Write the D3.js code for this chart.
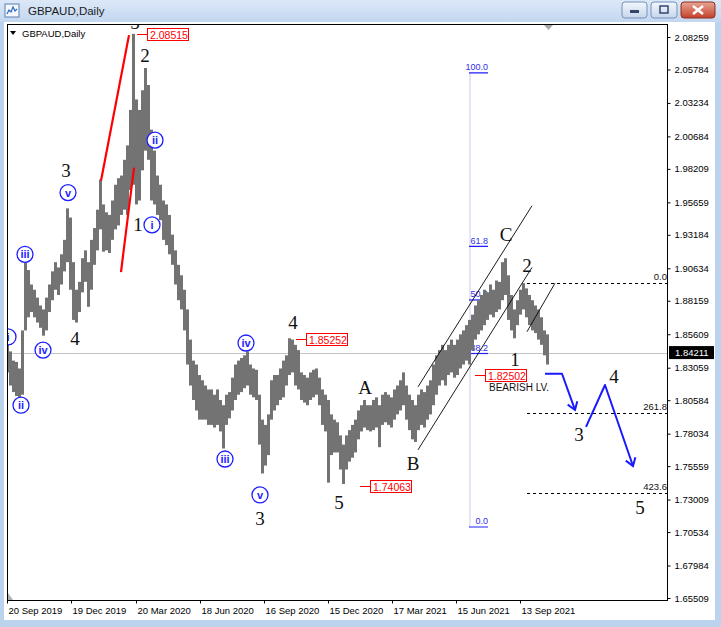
<!DOCTYPE html>
<html><head><meta charset="utf-8">
<script src="https://cdn.jsdelivr.net/npm/d3@7"></script>
<style>body{margin:0;background:#bcd3ee;} svg{display:block}</style>
</head><body>
<svg id="c" width="721" height="627"></svg>
<script>
// ---------- DATA ----------
const symbolTitle = "GBPAUD,Daily";
const barStepDays = 3; // each entry = 3 trading days
const highs = [
1.852,1.843,1.836,1.835,1.830,1.859,1.911,1.905,1.894,1.890,
1.884,1.878,1.875,1.884,1.894,1.904,1.911,1.907,1.917,1.928,
1.952,1.945,1.911,1.890,1.896,1.914,1.920,1.911,1.928,1.937,
1.951,1.974,1.955,1.949,1.947,1.958,1.970,1.975,1.977,1.989,
2.000,2.027,2.085,2.035,2.027,2.042,2.059,2.046,2.012,1.996,
1.977,1.970,1.958,1.955,1.947,1.932,1.920,1.909,1.901,1.890,
1.875,1.852,1.836,1.833,1.825,1.821,1.817,1.814,1.814,1.810,
1.814,1.806,1.802,1.810,1.812,1.823,1.833,1.836,1.838,1.840,
1.843,1.833,1.830,1.829,1.810,1.791,1.787,1.795,1.821,1.825,
1.825,1.830,1.836,1.840,1.853,1.852,1.848,1.844,1.827,1.825,
1.823,1.827,1.829,1.830,1.823,1.814,1.810,1.806,1.795,1.791,
1.789,1.779,1.772,1.779,1.783,1.787,1.791,1.798,1.802,1.806,
1.802,1.802,1.806,1.808,1.802,1.810,1.812,1.810,1.808,1.814,
1.817,1.821,1.827,1.817,1.810,1.806,1.802,1.810,1.814,1.812,
1.817,1.821,1.833,1.840,1.844,1.848,1.844,1.848,1.852,1.848,
1.852,1.856,1.859,1.863,1.867,1.871,1.878,1.882,1.886,1.890,
1.888,1.894,1.890,1.897,1.896,1.911,1.914,1.901,1.886,1.875,
1.882,1.890,1.895,1.891,1.886,1.882,1.878,1.875,1.869,1.859,
1.856];
const lows = [
1.827,1.817,1.812,1.809,1.808,1.810,1.859,1.869,1.873,1.869,
1.865,1.861,1.855,1.859,1.873,1.882,1.890,1.886,1.894,1.904,
1.911,1.890,1.867,1.865,1.873,1.888,1.896,1.877,1.890,1.909,
1.920,1.936,1.919,1.920,1.918,1.928,1.936,1.939,1.947,1.951,
1.947,1.966,1.970,1.955,1.958,1.981,1.996,1.989,1.958,1.955,
1.947,1.943,1.928,1.924,1.917,1.909,1.894,1.882,1.875,1.859,
1.833,1.817,1.806,1.798,1.791,1.791,1.791,1.787,1.787,1.785,
1.787,1.782,1.769,1.787,1.792,1.798,1.806,1.810,1.812,1.815,
1.817,1.810,1.808,1.806,1.772,1.750,1.756,1.764,1.791,1.798,
1.802,1.806,1.808,1.817,1.825,1.827,1.817,1.814,1.806,1.804,
1.802,1.806,1.808,1.810,1.802,1.787,1.782,1.743,1.764,1.766,
1.766,1.753,1.742,1.753,1.759,1.762,1.766,1.776,1.782,1.785,
1.783,1.782,1.783,1.785,1.770,1.787,1.789,1.787,1.785,1.791,
1.795,1.798,1.802,1.791,1.783,1.776,1.774,1.783,1.787,1.785,
1.791,1.795,1.802,1.810,1.817,1.821,1.817,1.825,1.827,1.823,
1.825,1.830,1.833,1.836,1.833,1.844,1.852,1.856,1.859,1.863,
1.867,1.871,1.869,1.873,1.875,1.882,1.886,1.867,1.859,1.853,
1.863,1.871,1.875,1.869,1.863,1.859,1.857,1.852,1.848,1.840,
1.833];
const lastPrice = 1.84211;
const timeTickLabels = ["20 Sep 2019","19 Dec 2019","20 Mar 2020","18 Jun 2020","16 Sep 2020","15 Dec 2020","17 Mar 2021","15 Jun 2021","13 Sep 2021"];
const timeTickDays = [0,64,129,193,257,321,385,449,513];
const priceTicks = [2.08259,2.05784,2.03234,2.00684,1.98209,1.95659,1.93184,1.90634,1.88159,1.85609,1.83059,1.80584,1.78034,1.75559,1.73009,1.70534,1.67984,1.65509];
// wave labels: [text, day, price]
const waveLabels = [["3",59,1.981],["4",68,1.853],["5",128,2.094],["2",138,2.069],["1",131,1.940],
  ["4",286,1.865],["3",253,1.716],["5",332,1.728],["A",358,1.816],["B",406,1.758],["C",499,1.9325],
  ["2",520,1.909],["1",508,1.837],["3",572,1.780],["4",607,1.824],["5",633,1.724]];
const circleLabels = [["i",1,1.854],["ii",14,1.802],["iii",18,1.917],["iv",36,1.844],["v",61,1.964],
  ["ii",148,2.004],["i",145,1.9394],["iv",239,1.8494],["iii",218,1.761],["v",253,1.7336]];
const priceTags = [["2.08515",130,2.08515],["1.85252",289,1.85252],["1.74063",353,1.74063],["1.82502",468,1.82502]];
const fibDay = 463;
const fibLevels = [["100.0",2.0552],["61.8",1.9230],["50.0",1.8822],["38.2",1.8414],["0.0",1.7092]];
const extStartDay = 520;
const extLevels = [["0.0",1.8952],["261.8",1.7961],["423.6",1.7352]];
const channelLines = [[411,1.816,525,1.954],[411,1.768,525,1.907],[520,1.858,548,1.895]];
const redLines = [[94,1.973,122,2.084],[114,1.9035,127,1.983]];
const forecastArrows = [[[538,1.826],[555,1.826],[568,1.7984]],[[579,1.7855],[598,1.8174],[626,1.7557]]];
const noteText = ["BEARISH LV.",482,1.8153];

// ---------- DRAW ----------
const svg = d3.select("#c");
const defs = svg.append("defs");
const AX = "'Liberation Sans', Arial, sans-serif";

svg.append("rect").attr("width",721).attr("height",627).attr("fill","#bcd3ee");
const tg = defs.append("linearGradient").attr("id","tg").attr("x1",0).attr("y1",0).attr("x2",0).attr("y2",1);
tg.append("stop").attr("offset",0).attr("stop-color","#dce8f7");
tg.append("stop").attr("offset",1).attr("stop-color","#c3d7f0");
svg.append("rect").attr("width",721).attr("height",22).attr("fill","url(#tg)");
// icon
svg.append("rect").attr("x",5).attr("y",4).attr("width",14).attr("height",13).attr("fill","#f4f8fc").attr("stroke","#5a7fb0");
svg.append("path").attr("d","M7,14 L9,10 L11,12 L13,7 L15,11 L17,9").attr("fill","none").attr("stroke","#2b6cc4").attr("stroke-width",1.2);
svg.append("text").attr("x",28).attr("y",15).attr("font-family",AX).attr("font-size",11.5).attr("fill","#1b1b1b").text(symbolTitle);
// buttons
const bg = defs.append("linearGradient").attr("id","bg").attr("x1",0).attr("y1",0).attr("x2",0).attr("y2",1);
bg.append("stop").attr("offset",0).attr("stop-color","#f3f7fc");
bg.append("stop").attr("offset",1).attr("stop-color","#c6d6eb");
const rg = defs.append("linearGradient").attr("id","rg").attr("x1",0).attr("y1",0).attr("x2",0).attr("y2",1);
rg.append("stop").attr("offset",0).attr("stop-color","#e9a594");
rg.append("stop").attr("offset",1).attr("stop-color","#c3412b");
svg.append("rect").attr("x",622).attr("y",2).attr("width",25).attr("height",16).attr("rx",3).attr("fill","url(#bg)").attr("stroke","#7391b8");
svg.append("rect").attr("x",630).attr("y",10).attr("width",9).attr("height",3).attr("fill","#34466a");
svg.append("rect").attr("x",651).attr("y",2).attr("width",26).attr("height",16).attr("rx",3).attr("fill","url(#bg)").attr("stroke","#7391b8");
svg.append("rect").attr("x",660).attr("y",6).attr("width",8).attr("height",7).attr("fill","none").attr("stroke","#34466a").attr("stroke-width",1.5);
svg.append("rect").attr("x",681).attr("y",2).attr("width",34).attr("height",16).attr("rx",3).attr("fill","url(#rg)").attr("stroke","#8e2e1e");
svg.append("path").attr("d","M693,6 L703,14 M703,6 L693,14").attr("stroke","#fff").attr("stroke-width",2.4);

// client area
svg.append("rect").attr("x",4).attr("y",22).attr("width",711).attr("height",598).attr("fill","#fff");

const x = d3.scaleLinear().domain([0,661]).range([7,668]);
const y = d3.scaleLinear().domain([1.65509,2.08259]).range([598,37]);
const L = 7, R = 668, T = 24, B = 601;

defs.append("clipPath").attr("id","plot").append("rect").attr("x",L+0.5).attr("y",T+0.5).attr("width",R-L-1).attr("height",B-T-1);
const g = svg.append("g").attr("clip-path","url(#plot)");

// current price line
g.append("line").attr("x1",L).attr("x2",R).attr("y1",Math.round(y(lastPrice))+0.5).attr("y2",Math.round(y(lastPrice))+0.5).attr("stroke","#c4c4c4");

// fibo retracement
g.append("line").attr("x1",x(fibDay)).attr("x2",x(fibDay)).attr("y1",y(fibLevels[0][1])).attr("y2",y(fibLevels[4][1])).attr("stroke","#dcdcf2").attr("stroke-width",1.5);
fibLevels.forEach(([t,p])=>{
  g.append("line").attr("x1",x(fibDay)-1).attr("x2",x(fibDay)+18).attr("y1",y(p)).attr("y2",y(p)).attr("stroke","#1e1eff").attr("stroke-width",1.2);
  g.append("text").attr("x",x(fibDay)+18).attr("y",y(p)-2.5).attr("text-anchor","end").attr("font-family",AX).attr("font-size",9).attr("fill","#3030e8").text(t);
});

// price bars
g.selectAll("rect.bar").data(highs).enter().append("rect").attr("class","bar")
  .attr("x",(d,i)=>x(i*barStepDays)-1).attr("width",3)
  .attr("y",d=>y(d)).attr("height",(d,i)=>y(lows[i])-y(d))
  .attr("fill","#737373");

// channel lines
channelLines.forEach(([d1,p1,d2,p2])=>{
  g.append("line").attr("x1",x(d1)).attr("y1",y(p1)).attr("x2",x(d2)).attr("y2",y(p2)).attr("stroke","#000").attr("stroke-width",0.9);
});
// red lines
redLines.forEach(([d1,p1,d2,p2])=>{
  g.append("line").attr("x1",x(d1)).attr("y1",y(p1)).attr("x2",x(d2)).attr("y2",y(p2)).attr("stroke","#ff0000").attr("stroke-width",2.2);
});
// extension levels
extLevels.forEach(([t,p])=>{
  g.append("line").attr("x1",x(extStartDay)).attr("x2",R).attr("y1",Math.round(y(p))+0.5).attr("y2",Math.round(y(p))+0.5).attr("stroke","#000").attr("stroke-dasharray","3,3");
  g.append("text").attr("x",R-1).attr("y",y(p)-3).attr("text-anchor","end").attr("font-family",AX).attr("font-size",9.5).attr("fill","#111").text(t);
});

// forecast arrows
const line = d3.line().x(d=>x(d[0])).y(d=>y(d[1]));
forecastArrows.forEach(pts=>{
  g.append("path").attr("d",line(pts)).attr("fill","none").attr("stroke","#1a1aff").attr("stroke-width",2).attr("stroke-linejoin","round");
  const a = pts[pts.length-2], b = pts[pts.length-1];
  const ex = x(b[0]), ey = y(b[1]);
  const ang = Math.atan2(ey - y(a[1]), ex - x(a[0]));
  const len = 9, spread = 0.6;
  const p1 = [ex - len*Math.cos(ang-spread), ey - len*Math.sin(ang-spread)];
  const p2 = [ex - len*Math.cos(ang+spread), ey - len*Math.sin(ang+spread)];
  g.append("path").attr("d",`M${p1[0]},${p1[1]} L${ex},${ey} L${p2[0]},${p2[1]}`).attr("fill","none").attr("stroke","#1a1aff").attr("stroke-width",2);
});

// wave labels
g.selectAll("text.wave").data(waveLabels).enter().append("text").attr("class","wave")
  .attr("x",d=>x(d[1])).attr("y",d=>y(d[2])).attr("dy","0.36em").attr("text-anchor","middle")
  .attr("font-family","'Liberation Serif','Times New Roman',serif").attr("font-size",19).attr("fill","#111")
  .text(d=>d[0]);

// circle labels
const cg = g.selectAll("g.circ").data(circleLabels).enter().append("g").attr("class","circ")
  .attr("transform",d=>`translate(${x(d[1])},${y(d[2])})`);
cg.append("circle").attr("r",8).attr("fill","#fff").attr("stroke","#1e1eff").attr("stroke-width",1.3);
cg.append("text").attr("text-anchor","middle").attr("dy","0.36em").attr("font-family",AX).attr("font-size",11).attr("font-weight","bold").attr("fill","#1e1eff").text(d=>d[0]);

// price tags
priceTags.forEach(([t,d,p])=>{
  const px = x(d), py = Math.round(y(p))+0.5;
  g.append("line").attr("x1",px).attr("x2",px+11).attr("y1",py).attr("y2",py).attr("stroke","#ff0000");
  g.append("rect").attr("x",Math.round(px)+10.5).attr("y",py-6).attr("width",41).attr("height",12).attr("fill","#fff").attr("stroke","#ff0000");
  g.append("text").attr("x",px+13).attr("y",py+4).attr("font-family",AX).attr("font-size",10.5).attr("fill","#ff0000").text(t);
});
g.append("text").attr("x",x(noteText[1])).attr("y",y(noteText[2])).attr("dy","0.35em").attr("font-family",AX).attr("font-size",10).attr("fill","#111").text(noteText[0]);

// chart caption
svg.append("path").attr("d","M10,31 L16,31 L13,35 Z").attr("fill","#000");
svg.append("text").attr("x",22).attr("y",37).attr("font-family",AX).attr("font-size",9.5).attr("fill","#000").text(symbolTitle);
// shift markers
svg.append("path").attr("d","M544,25 L553,25 L548.5,30 Z").attr("fill","#a8a8a8");
svg.append("path").attr("d","M8,600 L8,593 L13,600 Z").attr("fill","#b0b0b0");

// border
svg.append("rect").attr("x",L+0.5).attr("y",T+0.5).attr("width",R-L-1).attr("height",B-T-1).attr("fill","none").attr("stroke","#000");

// y axis
const yAxis = d3.axisRight(y).tickValues(priceTicks).tickSize(3).tickPadding(4).tickFormat(d3.format(".5f"));
const ya = svg.append("g").attr("transform",`translate(${R-0.5},0)`).call(yAxis);
ya.select(".domain").remove();
ya.selectAll("text").attr("font-family",AX).attr("font-size",9.5).attr("fill","#000");
ya.selectAll("line").attr("stroke","#000");
// last price label
const ly = y(lastPrice);
svg.append("rect").attr("x",669).attr("y",ly-6.5).attr("width",45).attr("height",13).attr("fill","#000");
svg.append("text").attr("x",675).attr("y",ly).attr("dy","0.35em").attr("font-family",AX).attr("font-size",9.5).attr("fill","#fff").text(lastPrice.toFixed(5));

// x axis
const xAxis = d3.axisBottom(x).tickValues(timeTickDays).tickSize(3).tickFormat((d,i)=>timeTickLabels[i]);
const xa = svg.append("g").attr("transform",`translate(0,${B-0.5})`).call(xAxis);
xa.select(".domain").remove();
xa.selectAll("text").attr("font-family",AX).attr("font-size",9.5).attr("fill","#000").attr("text-anchor","start").attr("dx",1).attr("y",7);
xa.selectAll("line").attr("stroke","#000");
</script>
</body></html>
